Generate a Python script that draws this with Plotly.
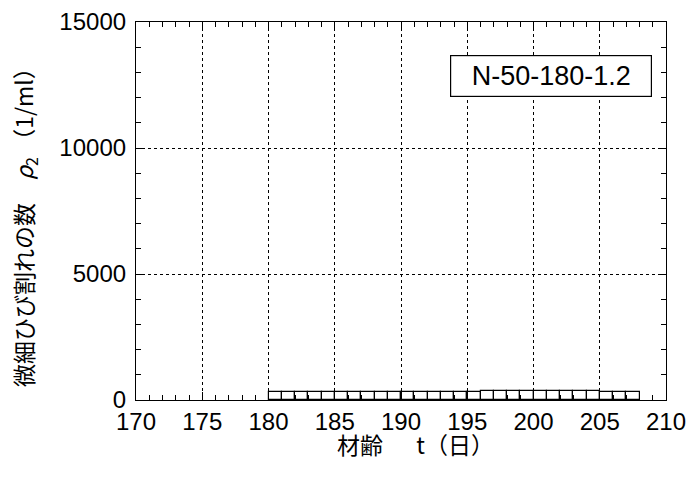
import plotly.graph_objects as go

# Daily micro-crack counts (age in days, count per ml)
days = list(range(180, 208))
counts = [320, 320, 320, 320, 320,
          300, 300, 300, 300, 300, 300, 300, 300, 300, 300, 300,
          340, 340, 340, 340, 340, 340, 340, 340, 340,
          300, 300, 300]
label = "N-50-180-1.2"
x_title = "材齢　  t（日）"
y_title = "微細ひび割れの数　<i>ρ</i><sub>2</sub> （1/ml）"

font_family = "Liberation Sans, Arial, sans-serif"
cjk_family = "Noto Sans CJK JP, sans-serif"

fig = go.Figure()
fig.add_trace(go.Bar(
    x=[d + 0.5 for d in days],
    y=counts,
    width=1.0,
    marker=dict(color="white", line=dict(color="black", width=1.2)),
    showlegend=False,
))

axis_common = dict(
    showline=True, linecolor="black", linewidth=1.2, mirror="allticks",
    ticks="inside", ticklen=8, tickcolor="black", tickwidth=1,
    showgrid=True, gridcolor="black", griddash="dot", gridwidth=1,
    zeroline=False, tickformat="d", automargin=False,
    tickfont=dict(family=font_family, size=24, color="black"),
)

fig.update_xaxes(
    range=[170, 210], tick0=170, dtick=5,
    minor=dict(ticks="inside", ticklen=5, dtick=1, tickcolor="black", showgrid=False),
    ticklabelstandoff=0,
    **axis_common,
)
fig.update_yaxes(
    range=[0, 15000], tick0=0, dtick=5000,
    minor=dict(ticks="inside", ticklen=5, dtick=1000, tickcolor="black", showgrid=False),
    ticklabelstandoff=4,
    **axis_common,
)

# Axis titles placed as annotations for precise positioning
fig.add_annotation(
    x=0.5, y=0, xref="paper", yref="paper",
    xanchor="center", yanchor="middle", xshift=14, yshift=-44,
    text=x_title, showarrow=False,
    font=dict(family=cjk_family, size=23, color="black"),
)
fig.add_annotation(
    x=0, y=0.5, xref="paper", yref="paper",
    xanchor="center", yanchor="middle", xshift=-112, yshift=-11,
    textangle=-90,
    text=y_title, showarrow=False,
    font=dict(family=cjk_family, size=23, color="black"),
)

fig.add_annotation(
    x=0.9736, y=0.9127, xref="paper", yref="paper",
    xanchor="right", yanchor="top",
    text=label, showarrow=False,
    font=dict(family=font_family, size=27, color="black"),
    width=192, height=32, align="center",
    bordercolor="black", borderwidth=1.2, borderpad=4,
    bgcolor="white",
)

fig.update_layout(
    width=687, height=477,
    margin=dict(l=136, r=21, t=22, b=77),
    paper_bgcolor="white", plot_bgcolor="white",
    bargap=0,
)

fig.write_html("out.html")
